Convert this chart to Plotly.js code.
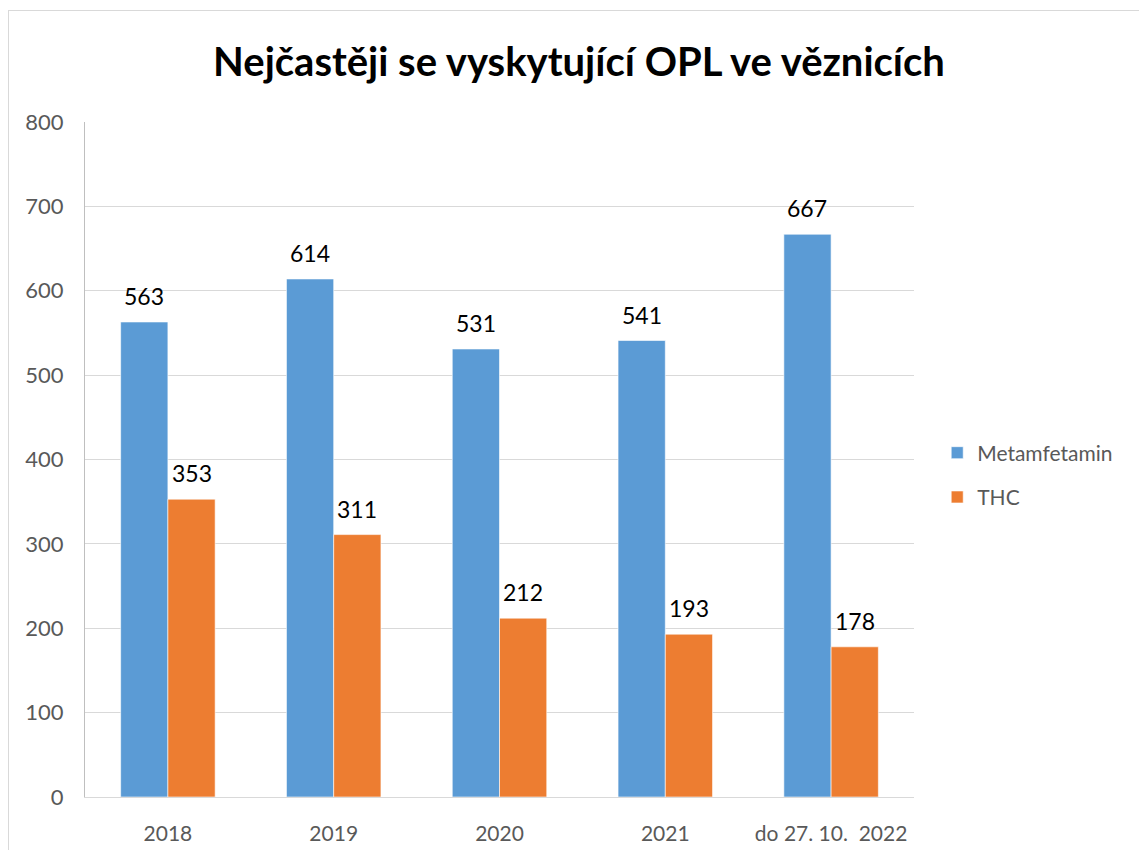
<!DOCTYPE html>
<html>
<head>
<meta charset="utf-8">
<script src="https://cdn.plot.ly/plotly-3.0.1.min.js"></script>
<style>
  html, body { margin: 0; padding: 0; background: #fff; }
  #wrap { position: relative; width: 1139px; height: 850px; overflow: hidden; }
  #chart { width: 1139px; height: 850px; }
  #frame { position: absolute; left: 8px; top: 10px; width: 1200px; height: 900px;
           border: 1px solid #d9d9d9; pointer-events: none; box-sizing: border-box; }
</style>
</head>
<body>
<div id="wrap">
  <div id="chart"></div>
  <div id="frame"></div>
</div>
<script>
const categories = ["2018", "2019", "2020", "2021", "do 27. 10.\u00a0\u00a02022"];
const metamfetamin = [563, 614, 531, 541, 667];
const thc = [353, 311, 212, 193, 178];
const seriesNames = ["Metamfetamin", "THC"];
const seriesColors = ["#5b9bd5", "#ed7d31"];
const chartTitle = "Nejčastěji se vyskytující OPL ve věznicích";

const FONT = "Lato, 'Open Sans', sans-serif";
const bargap = 0.43;
const barW = (1 - bargap) / 2;

const traces = [metamfetamin, thc].map((vals, k) => ({
  type: 'bar',
  name: seriesNames[k],
  x: categories,
  y: vals,
  legendgroup: 'g' + k,
  marker: { color: seriesColors[k], line: { color: '#ffffff', width: 0.6 } },
  hoverinfo: 'none'
}));

const annotations = [];
[metamfetamin, thc].forEach((vals, k) => {
  vals.forEach((v, i) => {
    annotations.push({
      xref: 'x', yref: 'y',
      x: i + (k === 0 ? -barW / 2 : barW / 2),
      y: v,
      text: String(v),
      showarrow: false,
      yanchor: 'middle',
      yshift: 26,
      font: { family: FONT, size: 23, color: '#000000' }
    });
  });
});

const layout = {
  width: 1139, height: 850,
  paper_bgcolor: '#ffffff', plot_bgcolor: '#ffffff',
  margin: { l: 85, r: 225, t: 122, b: 53 },
  title: {
    text: '<b>' + chartTitle + '</b>',
    x: 579 / 1139, xref: 'container', xanchor: 'center',
    y: 1 - 62 / 850, yref: 'container', yanchor: 'middle',
    font: { family: FONT, size: 40, color: '#000000' }
  },
  barmode: 'group',
  bargap: bargap,
  bargroupgap: 0,
  showlegend: true,
  legend: {
    x: 1.028, xanchor: 'left', y: 0.477, yanchor: 'middle',
    font: { family: FONT, size: 21, color: '#595959' },
    traceorder: 'grouped', tracegroupgap: 14,
    bgcolor: 'rgba(0,0,0,0)'
  },
  xaxis: {
    type: 'category',
    tickfont: { family: FONT, size: 21, color: '#595959' },
    showgrid: false,
    showline: true, linecolor: '#d9d9d9', linewidth: 1,
    ticks: 'outside', ticklen: 18, tickcolor: 'rgba(0,0,0,0)'
  },
  yaxis: {
    range: [0, 800],
    dtick: 100,
    tickfont: { family: FONT, size: 22, color: '#595959' },
    showgrid: true, gridcolor: '#d9d9d9', gridwidth: 1,
    zeroline: true, zerolinecolor: '#d9d9d9', zerolinewidth: 1,
    showline: true, linecolor: '#bfbfbf', linewidth: 1,
    ticks: 'outside', ticklen: 16, tickcolor: 'rgba(0,0,0,0)'
  },
  annotations: annotations
};

Plotly.newPlot('chart', traces, layout, { staticPlot: true, displayModeBar: false });
</script>
</body>
</html>
